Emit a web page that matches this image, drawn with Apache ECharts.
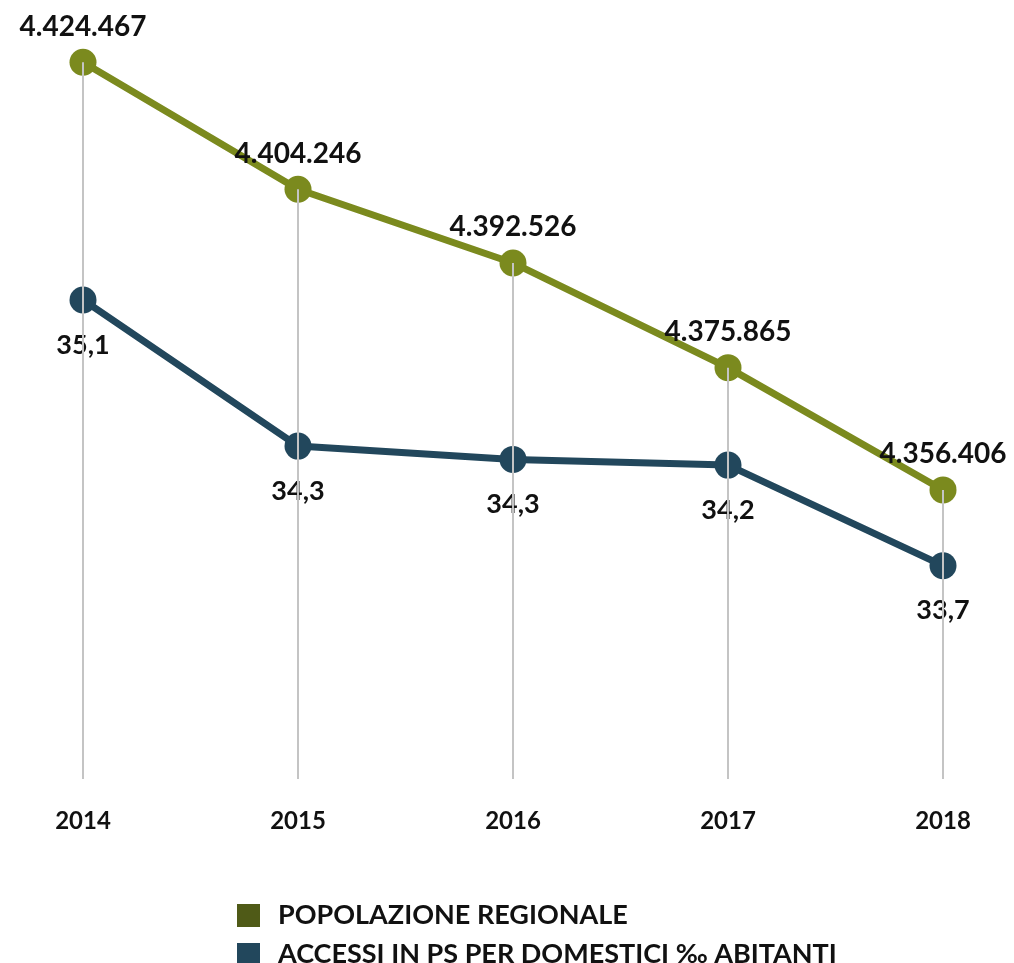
<!DOCTYPE html>
<html>
<head>
<meta charset="utf-8">
<script src="https://cdn.jsdelivr.net/npm/echarts@6/dist/echarts.min.js"></script>
<style>
  html, body { margin: 0; padding: 0; background: #fff; }
  #chart { width: 1014px; height: 963px; }
</style>
</head>
<body>
<div id="chart"></div>
<script>
// dati
const years = ['2014', '2015', '2016', '2017', '2018']
const popolazione = [4424467, 4404246, 4392526, 4375865, 4356406]
const accessi = [35.1, 34.33, 34.26, 34.23, 33.7]
const seriesNames = ['POPOLAZIONE REGIONALE', 'ACCESSI IN PS PER DOMESTICI ‰ ABITANTI']

const FONT = 'Lato'
const GREEN = '#7b8a1e'
const BLUE = '#22475c'

const fmtInt = v => String(v).replace(/\B(?=(\d{3})+(?!\d))/g, '.')
const fmtDec = v => v.toFixed(1).replace('.', ',')

const chart = echarts.init(document.getElementById('chart'))

chart.setOption({
  backgroundColor: '#fff',
  animation: false,
  textStyle: { fontFamily: FONT },
  grid: { left: 83, right: 71, top: 30, bottom: 184 },
  legend: {
    orient: 'vertical',
    left: 237,
    top: 902,
    width: 700,
    height: 100,
    padding: 0,
    icon: 'rect',
    itemWidth: 23,
    itemHeight: 23,
    itemGap: 12,
    textStyle: { fontFamily: FONT, fontSize: 27, lineHeight: 23, fontWeight: 'bold', color: '#111', padding: [0, 0, 0, 13] },
    data: [
      { name: seriesNames[0], itemStyle: { color: '#4f5a17' } },
      { name: seriesNames[1], itemStyle: { color: BLUE } }
    ]
  },
  xAxis: {
    type: 'category',
    data: years,
    boundaryGap: false,
    axisLine: { show: false },
    axisTick: { show: false },
    splitLine: { show: false },
    axisLabel: { margin: 30, fontSize: 24, fontWeight: 'bold', color: '#111', fontFamily: FONT }
  },
  yAxis: [
    { type: 'value', min: 4310400, max: 4429600, show: false, splitLine: { show: false } },
    { type: 'value', min: 32.576, max: 36.5225, show: false, splitLine: { show: false } }
  ],
  series: [
    {
      name: seriesNames[0],
      type: 'line',
      yAxisIndex: 0,
      data: popolazione,
      symbol: 'circle',
      symbolSize: 27,
      lineStyle: { color: GREEN, width: 7 },
      itemStyle: { color: GREEN },
      label: {
        show: true,
        position: 'top',
        distance: 8,
        formatter: p => fmtInt(p.value),
        fontSize: 28,
        fontWeight: 'bold',
        color: '#111',
        fontFamily: FONT
      },
      z: 3
    },
    {
      name: seriesNames[1],
      type: 'line',
      yAxisIndex: 1,
      data: accessi,
      symbol: 'circle',
      symbolSize: 27,
      lineStyle: { color: BLUE, width: 7 },
      itemStyle: { color: BLUE },
      label: {
        show: true,
        position: 'bottom',
        distance: 18,
        formatter: p => fmtDec(p.value),
        fontSize: 27,
        fontWeight: 'bold',
        color: '#111',
        fontFamily: FONT
      },
      z: 3
    },
    {
      // linee verticali grigie dal punto della popolazione fino alla base
      name: 'linee',
      type: 'bar',
      yAxisIndex: 0,
      data: popolazione,
      barWidth: 2,
      itemStyle: { color: '#c4c4c4' },
      silent: true,
      z: 5
    }
  ]
})

window.addEventListener('resize', () => chart.resize())
</script>
</body>
</html>
